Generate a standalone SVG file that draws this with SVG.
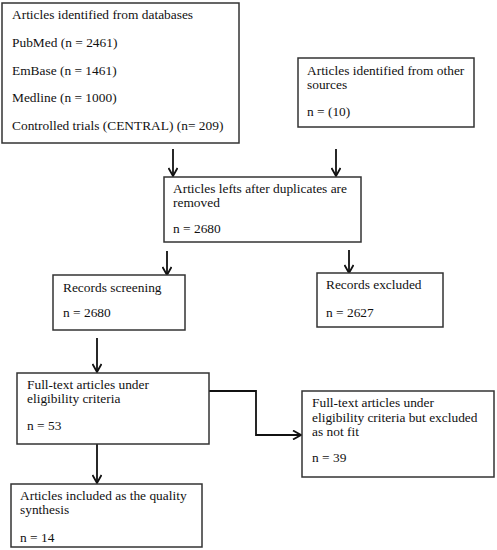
<svg xmlns="http://www.w3.org/2000/svg" width="497" height="550" viewBox="0 0 497 550">
<style>
rect.box{fill:#fff;stroke:#333;stroke-width:1.5}
text{font-family:"Liberation Serif","Times New Roman",serif;font-size:13.4px;fill:#111}
.c line,.c path{stroke:#111;stroke-width:1.8;fill:none}
</style>
<defs>
<marker id="ah" viewBox="0 0 10 10" refX="9" refY="5" markerWidth="10" markerHeight="10" markerUnits="userSpaceOnUse" orient="auto">
<path d="M1,0.5 L9,5 L1,9.5" fill="none" stroke="#111" stroke-width="1.8"/>
</marker>
</defs>
<rect width="497" height="550" fill="#fff"/>
<g class="c">
<line x1="173" y1="149" x2="173" y2="176" marker-end="url(#ah)"/>
<line x1="336" y1="149" x2="336" y2="176" marker-end="url(#ah)"/>
<line x1="167" y1="251" x2="167" y2="275" marker-end="url(#ah)"/>
<line x1="349" y1="250" x2="349" y2="273" marker-end="url(#ah)"/>
<line x1="97" y1="338" x2="97" y2="372" marker-end="url(#ah)"/>
<line x1="97" y1="444" x2="97" y2="483" marker-end="url(#ah)"/>
<path d="M209,391 H256 V435 H301" marker-end="url(#ah)"/>
</g>
<g id="n1">
<rect class="box" x="2" y="3" width="237" height="140"/>
<text x="12" y="19">Articles identified from databases</text>
<text x="12" y="47">PubMed (n = 2461)</text>
<text x="12" y="75">EmBase (n = 1461)</text>
<text x="12" y="102">Medline (n = 1000)</text>
<text x="12" y="130">Controlled trials (CENTRAL) (n= 209)</text>
</g>
<g id="n2">
<rect class="box" x="298" y="58" width="176" height="69"/>
<text x="307" y="75">Articles identified from other</text>
<text x="307" y="89">sources</text>
<text x="307" y="116">n = (10)</text>
</g>
<g id="n3">
<rect class="box" x="164" y="177" width="197" height="65"/>
<text x="173" y="193">Articles lefts after duplicates are</text>
<text x="173" y="207">removed</text>
<text x="173" y="233">n = 2680</text>
</g>
<g id="n4">
<rect class="box" x="53" y="275" width="132" height="55"/>
<text x="63" y="292">Records screening</text>
<text x="63" y="317">n = 2680</text>
</g>
<g id="n5">
<rect class="box" x="317" y="273" width="126" height="54"/>
<text x="326" y="289">Records excluded</text>
<text x="326" y="317">n = 2627</text>
</g>
<g id="n6">
<rect class="box" x="17" y="373" width="192" height="71"/>
<text x="27" y="389">Full-text articles under</text>
<text x="27" y="403">eligibility criteria</text>
<text x="27" y="430">n = 53</text>
</g>
<g id="n7">
<rect class="box" x="302" y="391" width="192" height="86"/>
<text x="312" y="407">Full-text articles under</text>
<text x="312" y="422">eligibility criteria but excluded</text>
<text x="312" y="436">as not fit</text>
<text x="312" y="462">n = 39</text>
</g>
<g id="n8">
<rect class="box" x="11" y="484" width="191" height="63"/>
<text x="20" y="500">Articles included as the quality</text>
<text x="20" y="514">synthesis</text>
<text x="20" y="542">n = 14</text>
</g>
</svg>
